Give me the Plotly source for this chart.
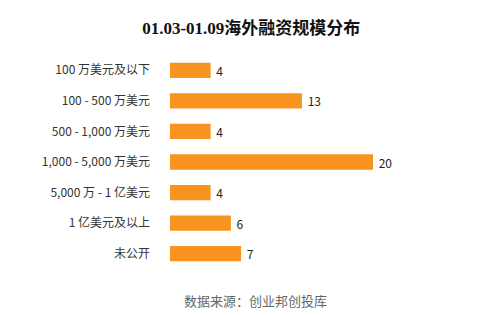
import plotly.graph_objects as go

categories = ["100 万美元及以下", "100 - 500 万美元", "500 - 1,000 万美元",
              "1,000 - 5,000 万美元", "5,000 万 - 1 亿美元", "1 亿美元及以上", "未公开"]
values = [4, 13, 4, 20, 4, 6, 7]
title_text = "01.03-01.09海外融资规模分布"
source_text = "数据来源：创业邦创投库"

fig = go.Figure(go.Bar(
    x=values, y=categories, orientation="h",
    marker=dict(color="#F7931E", line=dict(width=0)),
    width=0.5,
    text=[str(v) for v in values], texttemplate=" %{text}", textposition="outside",
    textfont=dict(size=12, color="#222", family="Noto Sans CJK SC"),
    constraintext="none",
    cliponaxis=False,
))

fig.update_layout(
    width=486, height=315,
    margin=dict(l=170, r=113, t=55, b=46),
    paper_bgcolor="white", plot_bgcolor="white",
    showlegend=False,
    title=dict(text="<b>" + title_text + "</b>", x=0.517, xanchor="center", y=0.911, yanchor="middle",
               font=dict(size=17, color="#111", family="Liberation Serif, Noto Sans CJK SC")),
    xaxis=dict(range=[0, 20], visible=False),
    yaxis=dict(autorange="reversed", showgrid=False, showline=False, ticks="",
               ticklabelstandoff=19,
               tickfont=dict(size=12, color="#333", family="Noto Sans CJK SC")),
    annotations=[dict(text=source_text, x=255 / 486, y=1 - 300 / 315, xref="paper", yref="paper",
                      xanchor="center", yanchor="middle", showarrow=False,
                      font=dict(size=13, color="#666", family="Noto Sans CJK SC"))],
)
# convert page-relative coordinates to plot-area paper coordinates
pw, ph = 486 - 170 - 113, 315 - 55 - 46
fig.layout.annotations[0].update(x=(255 - 170) / pw, y=(315 - 46 - 300) / ph)

fig.write_html("out.html")
